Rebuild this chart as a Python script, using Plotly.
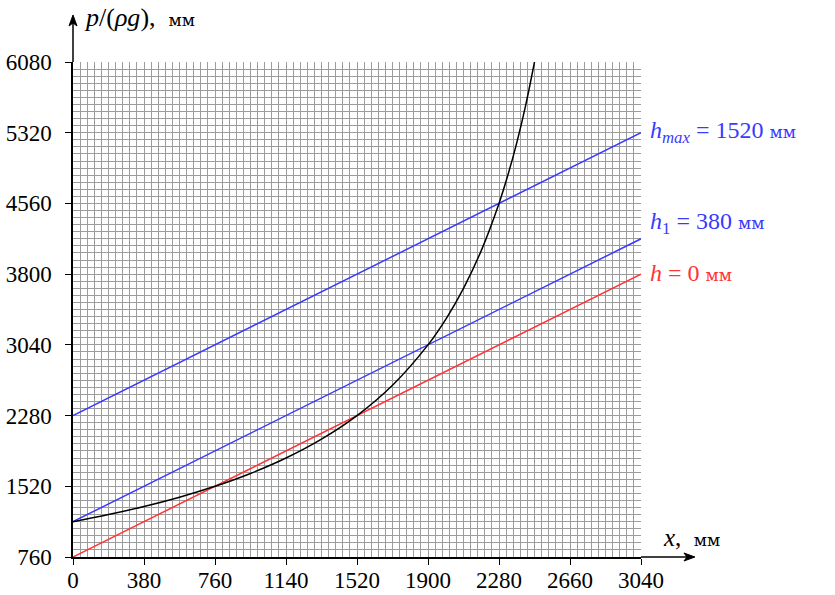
import plotly.graph_objects as go

# Data
x_curve = [0, 190, 380, 570, 760, 950, 1140, 1330, 1520, 1710, 1900, 2000, 2090, 2185, 2280, 2330, 2375, 2420, 2470]
y_curve = [1140, 1216, 1303, 1403, 1520, 1658, 1824, 2027, 2280, 2606, 3040, 3331, 3648, 4053, 4560, 4881, 5211, 5590, 6080]

x_line = [0, 3040]
y_h0 = [760, 3800]
y_h1 = [1140, 4180]
y_hmax = [2280, 5320]

x_ticks = [0, 380, 760, 1140, 1520, 1900, 2280, 2660, 3040]
y_ticks = [760, 1520, 2280, 3040, 3800, 4560, 5320, 6080]

BLUE = "#3a3aff"
RED = "#ff3434"
FONT = "Liberation Serif"
MM = "<span style='font-family:DejaVu Serif;font-size:17px'>мм</span>"

fig = go.Figure()
fig.add_trace(go.Scatter(x=x_line, y=y_hmax, mode="lines", line=dict(color=BLUE, width=1.5), showlegend=False))
fig.add_trace(go.Scatter(x=x_line, y=y_h1, mode="lines", line=dict(color=BLUE, width=1.5), showlegend=False))
fig.add_trace(go.Scatter(x=x_line, y=y_h0, mode="lines", line=dict(color=RED, width=1.5), showlegend=False))
fig.add_trace(go.Scatter(x=x_curve, y=y_curve, mode="lines", line=dict(color="black", width=1.5, shape="spline"), showlegend=False))

grid_col = "#9c9c9c"
fig.update_xaxes(range=[0, 3040], tickvals=x_ticks, ticktext=[str(v) for v in x_ticks],
                 showgrid=True, gridcolor=grid_col, gridwidth=1, automargin=False,
                 minor=dict(dtick=38, tick0=0, showgrid=True, gridcolor=grid_col, gridwidth=1, ticks=""),
                 showline=True, linecolor="black", linewidth=1.5, zeroline=False,
                 ticks="outside", ticklen=6, tickcolor="black", tickwidth=1.2,
                 ticklabelstandoff=-4,
                 tickfont=dict(family=FONT, size=23, color="black"))
fig.update_yaxes(range=[760, 6080], tickvals=y_ticks, ticktext=[str(v) for v in y_ticks],
                 showgrid=True, gridcolor=grid_col, gridwidth=1, automargin=False,
                 minor=dict(dtick=76, tick0=760, showgrid=True, gridcolor=grid_col, gridwidth=1, ticks=""),
                 showline=True, linecolor="black", linewidth=1.5, zeroline=False,
                 ticks="outside", ticklen=6, tickcolor="black", tickwidth=1.2,
                 ticklabelstandoff=9,
                 tickfont=dict(family=FONT, size=23, color="black"))

# axis arrow extensions (paper coordinates)
W, H = 568.0, 495.0
shapes = [
    dict(type="line", xref="paper", yref="paper", x0=1, y0=0, x1=1.095 - 6 / W, y1=0,
         line=dict(color="black", width=1.5)),
    dict(type="path", xref="paper", yref="paper",
         path=f"M {1.095} 0 L {1.095 - 11 / W} {4 / H} L {1.095 - 8 / W} 0 L {1.095 - 11 / W} {-4 / H} Z",
         fillcolor="black", line=dict(color="black", width=1)),
    dict(type="line", xref="paper", yref="paper", x0=0, y0=1, x1=0, y1=1.095 - 6 / H,
         line=dict(color="black", width=1.5)),
    dict(type="path", xref="paper", yref="paper",
         path=f"M 0 {1.095} L {-4 / W} {1.095 - 11 / H} L 0 {1.095 - 8 / H} L {4 / W} {1.095 - 11 / H} Z",
         fillcolor="black", line=dict(color="black", width=1)),
]

annotations = [
    dict(xref="paper", yref="paper", x=0.015, y=1.09, xanchor="left", yanchor="middle", showarrow=False,
         text="<i>p</i>/(<i>ρg</i>),&nbsp; " + MM,
         font=dict(family=FONT, size=26, color="black")),
    dict(xref="paper", yref="paper", x=1.035, y=0.04, xanchor="left", yanchor="middle", showarrow=False,
         text="<i>x</i>,&nbsp; " + MM,
         font=dict(family=FONT, size=25, color="black")),
    dict(xref="paper", yref="y", x=1.012, y=5325, xanchor="left", yanchor="middle", showarrow=False,
         text="<i>h</i><sub><i>max</i></sub>&nbsp;=&nbsp;1520 " + MM,
         font=dict(family=FONT, size=24, color=BLUE)),
    dict(xref="paper", yref="y", x=1.012, y=4345, xanchor="left", yanchor="middle", showarrow=False,
         text="<i>h</i><sub>1</sub>&nbsp;=&nbsp;380 " + MM,
         font=dict(family=FONT, size=24, color=BLUE)),
    dict(xref="paper", yref="y", x=1.012, y=3810, xanchor="left", yanchor="middle", showarrow=False,
         text="<i>h</i>&nbsp;=&nbsp;0 " + MM,
         font=dict(family=FONT, size=24, color=RED)),
]

fig.update_layout(width=835, height=595, margin=dict(l=73, r=194, t=62, b=38),
                  plot_bgcolor="white", paper_bgcolor="white",
                  annotations=annotations, shapes=shapes)

# remove the default 8px page margin so the figure fills the window exactly
fig.write_html("out.html", config={"displayModeBar": False},
               post_script="document.body.style.margin='0px';document.body.style.overflow='hidden';")
